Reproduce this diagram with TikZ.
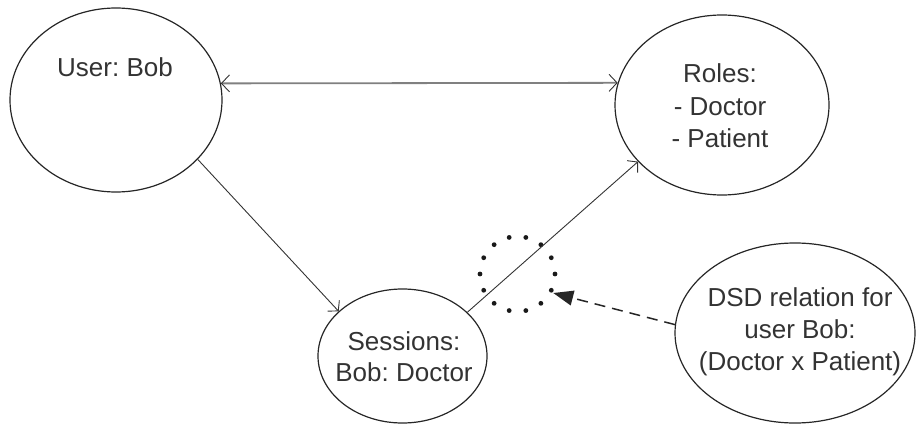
\documentclass[tikz,border=0pt]{standalone}
\usepackage{fontspec}
\setmainfont{Liberation Sans}
\usetikzlibrary{shapes.geometric,arrows.meta}
\frenchspacing
\begin{document}
\begin{tikzpicture}[x=1pt,y=-1pt,
  bubble/.style={ellipse,draw=black!85,line width=1.2pt,inner sep=0pt},
  txt/.style={anchor=base,inner sep=0pt,font=\fontsize{26}{32}\selectfont,text=black!80},
  link/.style={draw=black!80,line width=0.9pt,-{Straight Barb[length=7pt,width=16pt]}},
  assoc/.style={draw=black!50,line width=1.8pt,
    {Straight Barb[length=8pt,width=17pt,color=black!80,line width=0.9pt]}-{Straight Barb[length=8pt,width=17pt,color=black!80,line width=0.9pt]}},
  hint/.style={draw=black!85,line width=1.5pt,dash pattern=on 11pt off 7pt,
    -{Triangle[length=20pt,width=15pt]}},
  dot/.style={fill=black!90}
]
\useasboundingbox (0,0) rectangle (917,425);

% entities
\node[bubble,minimum width=212pt,minimum height=184pt] (user) at (116,100) {};
\node[txt] (userL) at (115,77) {User: Bob};

\node[bubble,minimum width=214pt,minimum height=180pt] (roles) at (722,105) {};
\node[txt] (rolesA) at (720,83) {Roles:};
\node[txt] (rolesB) at (720,115) {- Doctor};
\node[txt] (rolesC) at (720,147) {- Patient};

\node[bubble,minimum width=169pt,minimum height=134pt] (ses) at (402.5,356) {};
\node[txt] (sesA) at (404,350) {Sessions:};
\node[txt] (sesB) at (404,381) {Bob: Doctor};

\node[bubble,minimum width=240pt,minimum height=180pt] (dsd) at (795,333) {};
\node[txt] (dsdA) at (800,306) {DSD relation for};
\node[txt] (dsdB) at (800,338) {user Bob:};
\node[txt] (dsdC) at (800,370) {(Doctor x Patient)};

% dotted ring marking the session-role assignment
\node[circle,minimum size=80.6pt,inner sep=0pt] (ring) at (517.5,274) {};
\foreach \k in {0,...,13}
  \fill[dot] (ring.center) ++(\k*360/14:37.5pt) circle (2.4pt);

% connectors
\draw[assoc] (user.9.3) -- (roles.168);
\draw[link] (user.-36) -- (ses.145);
\draw[link] (ses.34) -- (roles.214);
\draw[hint] (dsd.176) -- (ring.-28);
\end{tikzpicture}
\end{document}
